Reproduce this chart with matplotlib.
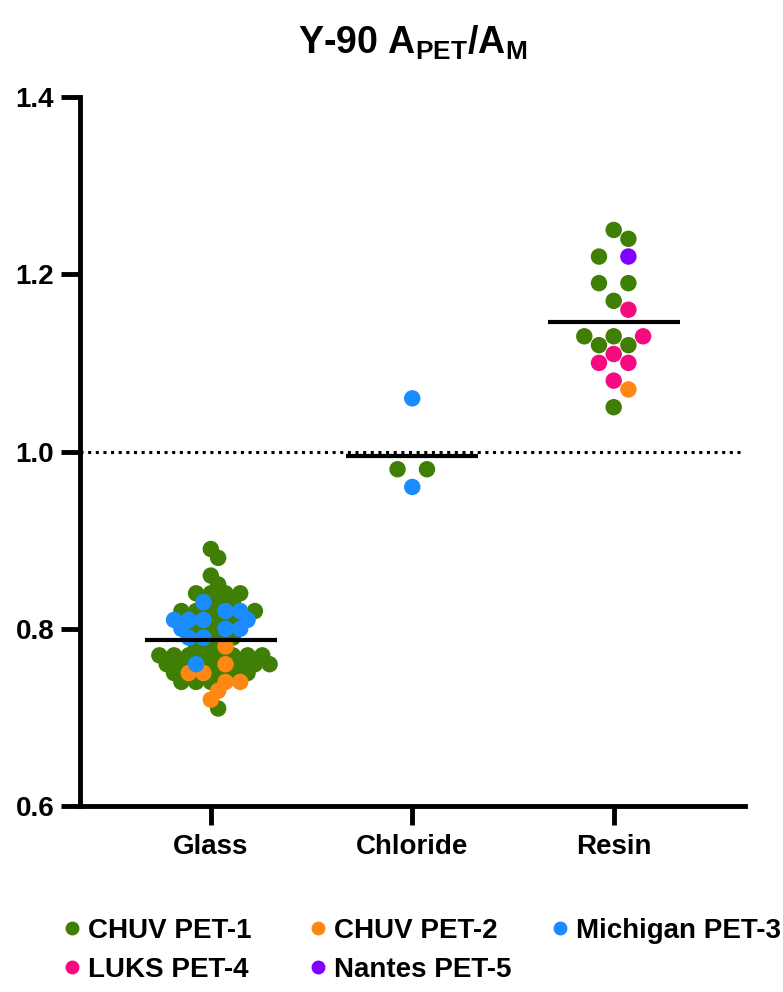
import numpy as np
import matplotlib.pyplot as plt
from matplotlib.lines import Line2D

plt.rcParams['font.family'] = ['Liberation Sans', 'DejaVu Sans']
plt.rcParams['font.weight'] = 'bold'

categories = ['Glass', 'Chloride', 'Resin']
labs = ['CHUV PET-1', 'CHUV PET-2', 'Michigan PET-3', 'LUKS PET-4', 'Nantes PET-5']
colors = ['#3F7F05', '#FF8714', '#1A8CFF', '#F50A80', '#8000FF']

# values per category, per lab
glass_chuv1 = [0.89, 0.88, 0.86, 0.85, 0.84, 0.84, 0.84, 0.84, 0.83, 0.83,
               0.82, 0.82, 0.82, 0.82, 0.81, 0.81, 0.80, 0.80, 0.79, 0.79,
               0.78, 0.78, 0.77, 0.77, 0.77, 0.77, 0.77, 0.77, 0.77, 0.77,
               0.76, 0.76, 0.76, 0.76, 0.76, 0.76, 0.75, 0.75, 0.75, 0.75,
               0.74, 0.74, 0.74, 0.71]
glass_chuv2 = [0.78, 0.76, 0.75, 0.75, 0.74, 0.74, 0.73, 0.72]
glass_mich3 = [0.83, 0.82, 0.82, 0.81, 0.81, 0.81, 0.81, 0.80, 0.80, 0.80,
               0.79, 0.79, 0.76]

chloride_chuv1 = [0.98, 0.98]
chloride_mich3 = [1.06, 0.96]

resin_chuv1 = [1.25, 1.24, 1.22, 1.19, 1.19, 1.17, 1.13, 1.13, 1.12, 1.12, 1.05]
resin_chuv2 = [1.07]
resin_luks4 = [1.16, 1.13, 1.11, 1.10, 1.10, 1.08]
resin_nantes5 = [1.22]

groups = {
    'Glass': [glass_chuv1, glass_chuv2, glass_mich3, [], []],
    'Chloride': [chloride_chuv1, [], chloride_mich3, [], []],
    'Resin': [resin_chuv1, resin_chuv2, [], resin_luks4, resin_nantes5],
}

fig = plt.figure(figsize=(7.83, 9.92), dpi=100)
ax = fig.add_axes([0.102, 0.1875, 0.849, 0.7147])
ax.set_xlim(-0.65, 2.65)
ax.set_ylim(0.6, 1.4)

# pixel scale, used for the swarm layout
px_x = 0.849 * 783 / 3.3
px_y = 0.7147 * 992 / 0.8


def clear(x, v, others, dmin):
    return all(np.hypot((x - qx) * px_x, (v - qy) * px_y) >= dmin - 1e-6 for qx, qy in others)


def swarm(vals, keys, step_px, dmin):
    step = step_px / px_x
    order = sorted(range(len(vals)), key=lambda i: (-vals[i], keys[i]))
    offs = np.zeros(len(vals))
    done = []
    for i in order:
        v = vals[i]
        placed = [(offs[j], vals[j]) for j in done]
        ok = None
        for k in range(0, 60):
            for c in ([0] if k == 0 else [k, -k]):
                if clear(c * step, v, placed, dmin):
                    ok = c * step
                    break
            if ok is not None:
                break
        offs[i] = ok
        done.append(i)
    # centre each row if that does not make it collide with the other rows
    for v in sorted(set(vals)):
        row = [i for i in range(len(vals)) if vals[i] == v]
        shift = -round(np.mean(offs[row]) / step) * step
        if shift == 0:
            continue
        others = [(offs[j], vals[j]) for j in range(len(vals)) if vals[j] != v]
        if all(clear(offs[i] + shift, v, others, dmin) for i in row):
            offs[row] += shift
    return offs


layout = {'Glass': (7.35, 11.5), 'Chloride': (14.7, 16), 'Resin': (14.7, 16)}

for ci, cat in enumerate(categories):
    vals, cols, keys = [], [], []
    for li, lst in enumerate(groups[cat]):
        for r, v in enumerate(lst):
            n_same = lst[:r].count(v)
            vals.append(v)
            cols.append(colors[li])
            keys.append((n_same, li))
    offs = swarm(vals, keys, *layout[cat])
    ax.scatter(ci + offs, vals, s=140, c=cols, edgecolors='none', zorder=3)
    m = np.mean(vals)
    ax.plot([ci - 0.328, ci + 0.328], [m, m], color='black', lw=3, zorder=4,
            solid_capstyle='butt')

ax.axhline(1.0, color='black', lw=2.2, ls=(0, (1, 1.5)), zorder=2)

for s in ['top', 'right']:
    ax.spines[s].set_visible(False)
for s in ['left', 'bottom']:
    ax.spines[s].set_linewidth(3.5)

ax.set_yticks([0.6, 0.8, 1.0, 1.2, 1.4])
ax.set_yticklabels(['0.6', '0.8', '1.0', '1.2', '1.4'])
ax.set_xticks(range(3))
ax.set_xticklabels(categories)
ax.tick_params(axis='both', width=3.5, length=14, labelsize=20)
ax.tick_params(axis='y', pad=4.5)
ax.tick_params(axis='x', pad=6)
for lab in ax.get_xticklabels() + ax.get_yticklabels():
    lab.set_fontweight('bold')

fig.text(0.527, 0.957, r'Y-90 A$_{\mathregular{PET}}$/A$_{\mathregular{M}}$',
         ha='center', va='center', fontsize=27, fontweight='bold')

# legend: three fixed-width columns, filled row by row
handles = [Line2D([], [], marker='o', ls='none', color=c, markersize=9) for c in colors]
columns = [[0, 3], [1, 4], [2]]
col_x = [63.7, 309.7, 551.7]
for idx, x0 in zip(columns, col_x):
    fig.legend([handles[i] for i in idx], [labs[i] for i in idx],
               loc='upper left', bbox_to_anchor=(x0 / 783, 0.0745), ncol=1,
               frameon=False, prop={'size': 20, 'weight': 'bold'}, handletextpad=0.28,
               handlelength=0.6, labelspacing=0.45, borderaxespad=0, borderpad=0)

fig.savefig('out.png', dpi=100)
